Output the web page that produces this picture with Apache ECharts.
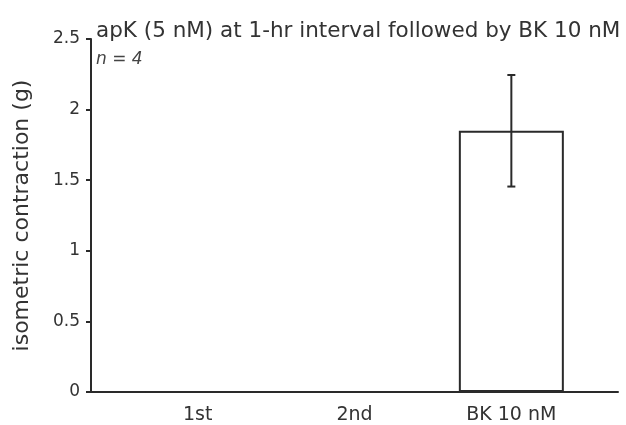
<!DOCTYPE html>
<html>
<head>
<meta charset="utf-8">
<script src="https://cdn.jsdelivr.net/npm/echarts@6/dist/echarts.min.js"></script>
<style>
html, body { margin: 0; padding: 0; background: #fff; }
#main { width: 626px; height: 425px; }
</style>
</head>
<body>
<div id="main"></div>
<script>
// groups on the x axis, placed at x = 1, 2, 3
var categories = ['1st', '2nd', 'BK 10 nM'];
// mean isometric contraction (g) and SEM
var means = [0, 0, 1.85];
var sems = [0, 0, 0.395];
var yTicks = [0, 0.5, 1, 1.5, 2, 2.5];

var font = 'DejaVu Sans';
var ink = '#2a2a2a';

var barData = [];
var errData = [];
for (let i = 0; i < categories.length; i++) {
    barData.push([i + 1, means[i]]);
    if (sems[i] > 0) {
        errData.push([i + 1, means[i] - sems[i], means[i] + sems[i]]);
    }
}

var myChart = echarts.init(document.getElementById('main'));
var option = {
    backgroundColor: '#fff',
    animation: false,
    title: {
        text: 'apK (5 nM) at 1-hr interval followed by BK 10 nM',
        subtext: 'n = 4',
        left: 96,
        top: 20,
        itemGap: 9,
        padding: 0,
        textStyle: { fontFamily: font, fontSize: 21.5, fontWeight: 'normal', color: '#333' },
        subtextStyle: { fontFamily: font, fontSize: 17, fontStyle: 'italic', color: '#444' }
    },
    grid: { left: 91, right: 8, top: 39, bottom: 32 },
    xAxis: {
        type: 'value',
        min: 0.32,
        max: 3.68,
        axisLine: { show: true, lineStyle: { color: ink, width: 2 } },
        axisTick: { show: false },
        splitLine: { show: false },
        axisLabel: {
            customValues: [1, 2, 3],
            formatter: function (v) { return categories[Math.round(v) - 1] || ''; },
            fontFamily: font,
            fontSize: 19,
            color: '#333',
            margin: 14
        }
    },
    yAxis: {
        type: 'value',
        min: yTicks[0],
        max: yTicks[yTicks.length - 1],
        interval: 0.5,
        name: 'isometric contraction (g)',
        nameLocation: 'middle',
        nameGap: 58,
        nameTextStyle: { fontFamily: font, fontSize: 22, color: '#333' },
        axisLine: { show: true, lineStyle: { color: ink, width: 2 } },
        axisTick: { show: true, length: 5, lineStyle: { color: ink, width: 2 } },
        splitLine: { show: false },
        axisLabel: {
            fontFamily: font,
            fontSize: 17,
            color: '#333',
            margin: 11,
            formatter: function (v) { return String(v); }
        }
    },
    series: [
        {
            type: 'bar',
            data: barData,
            barWidth: 105,
            itemStyle: { color: '#fff', borderColor: ink, borderWidth: 2 },
            z: 2
        },
        {
            type: 'custom',
            data: errData,
            z: 3,
            renderItem: function (params, api) {
                var x = api.value(0);
                var lo = api.coord([x, api.value(1)]);
                var hi = api.coord([x, api.value(2)]);
                var cap = 4;
                var style = { stroke: ink, lineWidth: 2 };
                return {
                    type: 'group',
                    children: [
                        { type: 'line', shape: { x1: hi[0], y1: hi[1], x2: lo[0], y2: lo[1] }, style: style },
                        { type: 'line', shape: { x1: hi[0] - cap, y1: hi[1], x2: hi[0] + cap, y2: hi[1] }, style: style },
                        { type: 'line', shape: { x1: lo[0] - cap, y1: lo[1], x2: lo[0] + cap, y2: lo[1] }, style: style }
                    ]
                };
            }
        }
    ]
};
myChart.setOption(option);
</script>
</body>
</html>
